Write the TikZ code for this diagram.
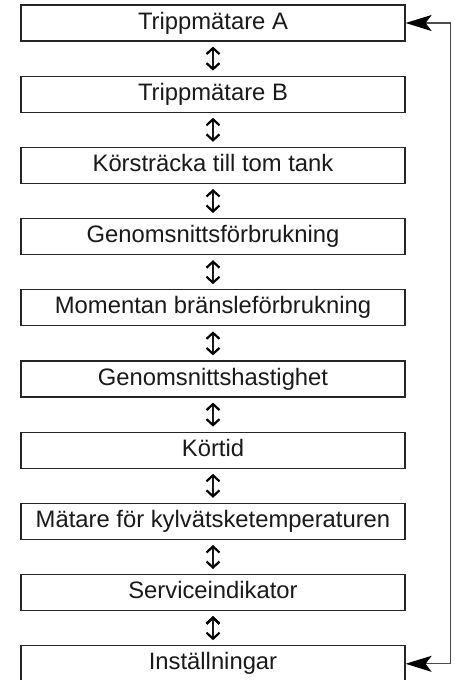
\documentclass[tikz,border=0pt]{standalone}
\usepackage{fontspec}
\setmainfont{Liberation Sans}
\usepackage{tikz}
\usetikzlibrary{positioning, arrows.meta}

\tikzset{
  menubox/.style={draw=black!85, line width=1.2pt, minimum width=384pt, minimum height=36pt,
    inner sep=0pt, text height=17pt, text depth=5pt, text=black!90,
    font=\fontsize{23.8}{27}\selectfont},
  barbs/.tip={Straight Barb[length=6pt,width=13pt,line width=2.2pt,color=black]},
  bigstealth/.tip={Stealth[length=26pt,width=16pt,inset=6pt,color=black]},
  dbl/.style={line width=2pt, draw=black!90, barbs-barbs},
  backline/.style={line width=1.3pt, draw=black!70, bigstealth-bigstealth}
}

\begin{document}
\begin{tikzpicture}
        \useasboundingbox (0pt,0pt) rectangle (455pt,-680pt);

        \node[menubox] (tripA) at (213pt,-23pt) {Trippmätare A};
        \node[menubox] (tripB) [below=34pt of tripA] {Trippmätare B};
        \node[menubox] (range) [below=34pt of tripB] {Körsträcka till tom tank};
        \node[menubox] (avgcons) [below=34pt of range] {Genomsnittsförbrukning};
        \node[menubox] (instcons) [below=34pt of avgcons] {Momentan bränsleförbrukning};
        \node[menubox] (avgspeed) [below=34pt of instcons] {Genomsnittshastighet};
        \node[menubox] (drivetime) [below=34pt of avgspeed] {Körtid};
        \node[menubox] (coolant) [below=34pt of drivetime] {Mätare för kylvätsketemperaturen};
        \node[menubox] (service) [below=34pt of coolant] {Serviceindikator};
        \node[menubox] (settings) [below=34pt of service] {Inställningar};

        % steg mellan menyerna
        \path[dbl]
        ([yshift=-5pt]tripA.south) edge ([yshift=5pt]tripB.north)
        ([yshift=-5pt]tripB.south) edge ([yshift=5pt]range.north)
        ([yshift=-5pt]range.south) edge ([yshift=5pt]avgcons.north)
        ([yshift=-5pt]avgcons.south) edge ([yshift=5pt]instcons.north)
        ([yshift=-5pt]instcons.south) edge ([yshift=5pt]avgspeed.north)
        ([yshift=-5pt]avgspeed.south) edge ([yshift=5pt]drivetime.north)
        ([yshift=-5pt]drivetime.south) edge ([yshift=5pt]coolant.north)
        ([yshift=-5pt]coolant.south) edge ([yshift=5pt]service.north)
        ([yshift=-5pt]service.south) edge ([yshift=5pt]settings.north);

        % tillbaka till början
        \draw[backline] (settings.east) -- ++(45pt,0pt) |- (tripA.east);

\end{tikzpicture}
\end{document}
